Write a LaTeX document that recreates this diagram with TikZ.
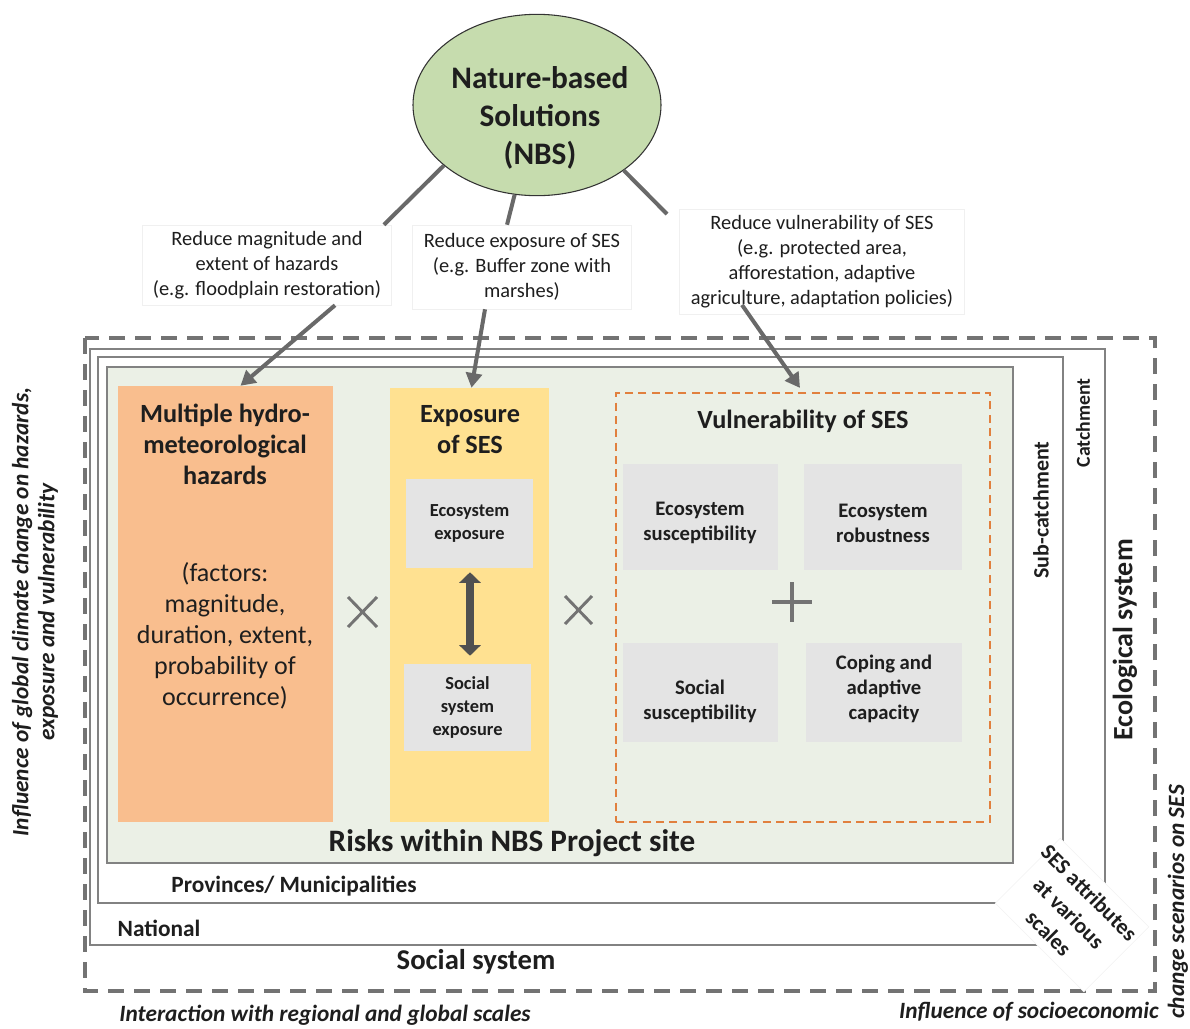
\documentclass[tikz,border=0pt]{standalone}
\usepackage{fontspec}
\setmainfont{Carlito}
\usetikzlibrary{arrows.meta,shapes.geometric,fit,calc}
\definecolor{txtc}{RGB}{30,30,30}
\definecolor{framegray}{RGB}{130,130,130}
\definecolor{dashgray}{RGB}{115,115,115}
\definecolor{conngray}{RGB}{105,105,105}
\definecolor{darkarrow}{RGB}{80,80,80}
\definecolor{greenbg}{RGB}{235,240,230}
\definecolor{hazfill}{RGB}{249,190,142}
\definecolor{expfill}{RGB}{255,225,145}
\definecolor{grayfill}{RGB}{228,228,228}
\definecolor{nbsgreen}{RGB}{198,220,174}
\definecolor{vulorange}{RGB}{225,128,62}
\begin{document}
\begin{tikzpicture}[x=0.75pt,y=-0.75pt,
  every node/.style={text=txtc, inner sep=0pt},
  frame/.style={draw=framegray, line width=1.5pt},
  outerdash/.style={draw=dashgray, line width=2.4pt, dash pattern=on 12pt off 7.5pt},
  conn/.style={draw=conngray, line width=3pt},
  arr/.style={conn, -{Triangle[length=11pt,width=12pt]}},
  dblarr/.style={draw=darkarrow, line width=6.5pt, {Triangle[length=8pt,width=16pt]}-{Triangle[length=8pt,width=16pt]}},
  signline/.style={draw=black!55, line width=2.2pt},
  lab/.style={fill=white, draw=black!6, align=center, font=\fontsize{15.3}{18.75}\selectfont},
  graybox/.style={fill=grayfill, align=center},
  smallbold/.style={font=\bfseries\fontsize{13.8}{17.25}\selectfont},
  midbold/.style={font=\bfseries\fontsize{15.5}{18.75}\selectfont},
  titlebold/.style={align=center, font=\bfseries\fontsize{19.7}{23.25}\selectfont},
  sidebold/.style={font=\bfseries\fontsize{17.5}{21}\selectfont},
  italnote/.style={font=\bfseries\itshape\fontsize{17.5}{19.5}\selectfont}
]
\useasboundingbox (0,0) rectangle (1190,1029);

% outer dashed frame
\draw[outerdash] (85,338) rectangle (1155,991);
% scale frames
\draw[frame] (90,349) rectangle (1105,945);
\draw[frame] (98,357) rectangle (1063,903);
\node[fill=greenbg, draw=framegray, line width=1.5pt, fit={(107,367) (1013,863)}] (site) {};

% corner cover and label
\node[rotate=-45, fill=white, draw=black!5, minimum width=94pt, minimum height=69pt] (sescover) at (1072,915) {};
\node[rotate=-45, align=center, font=\bfseries\fontsize{16.5}{21.5}\selectfont] (ses) at (1069,913) {SES attributes\\at various\\scales};

% hazards
\node[fill=hazfill, fit={(118,386) (333,822)}] (haz) {};
\node[titlebold] (haztitle) at (225,444) {Multiple hydro-\\meteorological\\hazards};
\node[align=center, font=\fontsize{19.5}{23.25}\selectfont] (hazfac) at (225,636) {(factors:\\magnitude,\\duration, extent,\\probability of\\occurrence)};

% exposure
\node[fill=expfill, fit={(390,388) (549,822)}] (expo) {};
\node[titlebold] (expotitle) at (470,430) {Exposure\\of SES};
\node[graybox, fit={(406,479) (533,568)}] (ecoexp) {};
\node[align=center, smallbold] at (ecoexp.center) (ecoexptext) {Ecosystem\\exposure};
\node[graybox, fit={(404,664) (531,751)}] (socexp) {};
\node[align=center, smallbold] at (socexp.center) (socexptext) {Social\\system\\exposure};
\draw[dblarr] ([yshift=-3pt]ecoexp.south -| 470,0) -- ([yshift=6pt]socexp.north -| 470,0);

% vulnerability
\node[draw=vulorange, line width=1.6pt, dash pattern=on 6pt off 4pt, fit={(616,393) (990,822)}] (vul) {};
\node[titlebold] (vultitle) at (803,421) {Vulnerability of SES};
\node[graybox, fit={(623,464) (778,570)}] (esus) {};
\node[align=center, midbold] (esustext) at (700,523) {Ecosystem\\susceptibility};
\node[graybox, fit={(804,464) (962,570)}] (erob) {};
\node[align=center, midbold] (erobtext) at (883,523) {Ecosystem\\robustness};
\node[graybox, fit={(623,643) (778,742)}] (ssus) {};
\node[align=center, midbold] (ssustext) at (700,701) {Social\\susceptibility};
\node[graybox, fit={(806,643) (962,742)}] (cope) {};
\node[align=center, midbold] (copetext) at (884,689) {Coping and\\adaptive\\capacity};

% signs
\draw[signline, line width=3pt] (772,602) -- (812,602);
\draw[signline, line width=3pt] (792,582) -- (792,622);
\draw[signline] (348,597) -- (377,627);
\draw[signline] (348,627) -- (377,597);
\draw[signline] (565,596) -- (592,624);
\draw[signline] (565,624) -- (592,596);

% site texts
\node[font=\bfseries\fontsize{23.4}{27}\selectfont] (risks) at (512,843) {Risks within NBS Project site};
\node[sidebold] (prov) at (294,886) {Provinces/ Municipalities};
\node[sidebold] (nat) at (159,928) {National};
\node[font=\bfseries\fontsize{21.5}{25}\selectfont] (soc) at (476,962) {Social system};
\node[font=\bfseries\fontsize{16.5}{20}\selectfont, rotate=90] (subc) at (1041,510) {Sub-catchment};
\node[font=\bfseries\fontsize{14.8}{20}\selectfont, rotate=90] (catch) at (1083,423) {Catchment};
\node[font=\bfseries\fontsize{21}{25}\selectfont, rotate=90] (eco) at (1125,640) {Ecological system};

% outer notes
\node[italnote, rotate=90, align=center] (leftnote) at (35,612) {Influence of global climate change on hazards,\\exposure and vulnerability};
\node[italnote] (botnote) at (325,1015) {Interaction with regional and global scales};
\node[italnote] (socnote) at (1029,1012) {Influence of socioeconomic};
\node[italnote, rotate=90] (socnote2) at (1178,902) {change scenarios on SES};

% NBS
\node[ellipse, draw=black!80, line width=0.8pt, fill=nbsgreen, minimum width=186pt, minimum height=136pt] (nbs) at (537,105) {};
\node[align=center, font=\bfseries\fontsize{23.5}{28.5}\selectfont] (nbstext) at (540,118) {Nature-based\\Solutions\\(NBS)};

% labels
\node[lab, minimum width=187pt, minimum height=60pt] (lab1) at (267,265) {Reduce magnitude and\\extent of hazards\\(e.g. floodplain restoration)};
\node[lab, minimum width=164pt, minimum height=63pt] (lab2) at (522,267) {Reduce exposure of SES\\(e.g. Buffer zone with\\marshes)};
\node[lab, minimum width=214pt, minimum height=79pt] (lab3) at (822,262) {Reduce vulnerability of SES\\(e.g. protected area,\\afforestation, adaptive\\agriculture, adaptation policies)};

% connectors
\draw[conn] (nbs.213) -- ($(lab1.north east)+(-8,0)$);
\draw[arr] ($(lab1.south)+(68,0)$) -- ($(haz.north)+(15,0)$);
\draw[conn] (nbs.256) -- ($(lab2.north)+(-15,0)$);
\draw[arr] ($(lab2.south)+(-37,0)$) -- ($(expo.north)+(2,0)$);
\draw[conn] (nbs.323) -- ($(lab3.north west)+(-12,5)$);
\draw[arr] ($(lab3.south)+(-80,-10)$) -- ($(vul.north)+(-3,-4)$);
\end{tikzpicture}
\end{document}
